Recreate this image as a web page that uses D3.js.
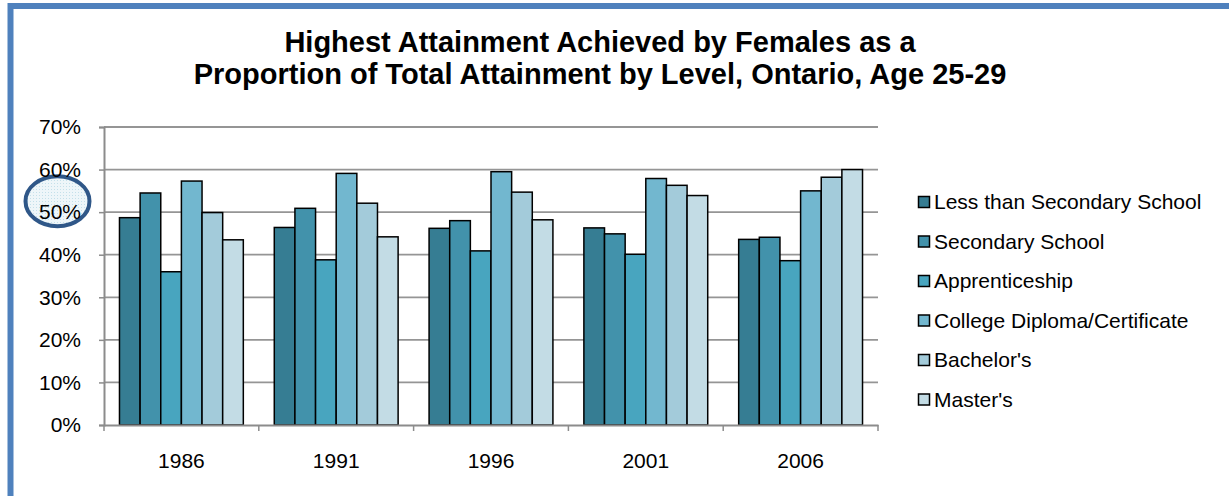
<!DOCTYPE html>
<html>
<head>
<meta charset="utf-8">
<script src="https://cdn.jsdelivr.net/npm/d3@7"></script>
<style>
body { margin: 0; background: #fff; }
text { font-family: "Liberation Sans", Arial, sans-serif; }
</style>
</head>
<body>
<div id="chart"></div>
<script>
// chart data
var years = ["1986", "1991", "1996", "2001", "2006"];
var levels = ["Less than Secondary School", "Secondary School", "Apprenticeship",
    "College Diploma/Certificate", "Bachelor's", "Master's"];
var lessThanSecondary = [48.7, 46.4, 46.2, 46.3, 43.6];
var secondary = [54.5, 50.9, 48.0, 44.9, 44.1];
var apprenticeship = [36.0, 38.8, 40.9, 40.1, 38.6];
var college = [57.3, 59.1, 59.5, 57.9, 55.0];
var bachelors = [49.9, 52.1, 54.7, 56.3, 58.2];
var masters = [43.5, 44.2, 48.2, 53.9, 60.0];
var yTicks = [0, 10, 20, 30, 40, 50, 60, 70];
var colors = ["#367d93", "#4292ab", "#48a5bf", "#72b7cf", "#a3cbda", "#c3dce5"];

var series = [lessThanSecondary, secondary, apprenticeship, college, bachelors, masters];

var width = 1229, height = 496;
var plot = { left: 104, right: 878, top: 127, bottom: 425 };

var svg = d3.select("#chart").append("svg")
    .attr("width", width)
    .attr("height", height);

// outer blue frame (runs off the right and bottom edges)
svg.append("path")
    .attr("d", "M10.5," + height + " V6 H" + width)
    .attr("fill", "none")
    .attr("stroke", "#4f81bd")
    .attr("stroke-width", 6);

// title
var title = svg.append("text")
    .attr("text-anchor", "middle")
    .attr("font-weight", "bold")
    .attr("font-size", 29)
    .attr("fill", "#000");
title.append("tspan").attr("x", 600).attr("y", 52)
    .text("Highest Attainment Achieved by Females as a");
title.append("tspan").attr("x", 600).attr("y", 84)
    .text("Proportion of Total Attainment by Level, Ontario, Age 25-29");

var scalex = d3.scaleBand().domain(years).range([plot.left, plot.right]).padding(0);
var inner = d3.scaleBand().domain(d3.range(levels.length))
    .range([0, scalex.bandwidth()])
    .paddingOuter(0.75).paddingInner(0);
var scaley = d3.scaleLinear().domain([0, 70]).range([plot.bottom, plot.top]);

// highlight ellipse around 50% (drawn under the labels)
var defs = svg.append("defs");
var pat = defs.append("pattern")
    .attr("id", "dots").attr("width", 3).attr("height", 3)
    .attr("patternUnits", "userSpaceOnUse");
pat.append("rect").attr("width", 3).attr("height", 3).attr("fill", "#eef6f9");
pat.append("rect").attr("width", 1).attr("height", 1).attr("fill", "#c4e0ea");
svg.append("ellipse")
    .attr("cx", 57.5).attr("cy", scaley(50) - 11)
    .attr("rx", 32).attr("ry", 25)
    .attr("fill", "url(#dots)")
    .attr("stroke", "#2f5788")
    .attr("stroke-width", 4);

// gridlines
svg.append("g")
    .selectAll("line")
    .data(yTicks.slice(1))
    .enter().append("line")
    .attr("x1", plot.left).attr("x2", plot.right)
    .attr("y1", function (d) { return scaley(d); })
    .attr("y2", function (d) { return scaley(d); })
    .attr("stroke", "#959595")
    .attr("stroke-width", 1.8);

// y axis
var yAxis = svg.append("g")
    .attr("transform", "translate(" + plot.left + ",0)")
    .call(d3.axisLeft(scaley)
        .tickValues(yTicks)
        .tickSize(5)
        .tickPadding(18)
        .tickFormat(function (d) { return d + "%"; }));
yAxis.select(".domain").attr("stroke", "#8c8c8c").attr("stroke-width", 2);
yAxis.selectAll(".tick line").attr("stroke", "#8c8c8c").attr("stroke-width", 1.5);
yAxis.selectAll("text")
    .attr("font-family", "Liberation Sans, Arial, sans-serif")
    .attr("font-size", 21).attr("fill", "#000");

// bars
for (var i = 0; i < series.length; i++) {
    svg.append("g")
        .attr("class", "series" + i)
        .selectAll("rect")
        .data(series[i])
        .enter().append("rect")
        .attr("x", function (d, j) { return scalex(years[j]) + inner(i); })
        .attr("y", function (d) { return scaley(d); })
        .attr("width", inner.bandwidth())
        .attr("height", function (d) { return scaley(0) - scaley(d); })
        .attr("fill", colors[i])
        .attr("stroke", "#000")
        .attr("stroke-width", 1.5);
}

// x axis
var xAxis = svg.append("g")
    .attr("transform", "translate(0," + plot.bottom + ")")
    .call(d3.axisBottom(scalex).tickSize(0).tickPadding(28));
xAxis.select(".domain").attr("stroke", "#8c8c8c").attr("stroke-width", 2);
xAxis.selectAll("text")
    .attr("font-family", "Liberation Sans, Arial, sans-serif")
    .attr("font-size", 21).attr("fill", "#000");
// category separators
svg.append("g")
    .selectAll("line")
    .data(years.concat(["end"]))
    .enter().append("line")
    .attr("x1", function (d, j) { return plot.left + j * scalex.step(); })
    .attr("x2", function (d, j) { return plot.left + j * scalex.step(); })
    .attr("y1", plot.bottom).attr("y2", plot.bottom + 6)
    .attr("stroke", "#8c8c8c").attr("stroke-width", 1.5);

// legend
var legend = svg.append("g")
    .selectAll("g")
    .data(levels)
    .enter().append("g")
    .attr("transform", function (d, j) { return "translate(918," + (202 + j * 39.5) + ")"; });
legend.append("rect")
    .attr("x", 0.5).attr("y", -5.5)
    .attr("width", 11).attr("height", 11)
    .attr("fill", function (d, j) { return colors[j]; })
    .attr("stroke", "#000").attr("stroke-width", 1.5);
legend.append("text")
    .attr("x", 16).attr("y", 0).attr("dy", "0.35em")
    .attr("font-size", 21).attr("fill", "#000")
    .text(function (d) { return d; });
</script>
</body>
</html>
